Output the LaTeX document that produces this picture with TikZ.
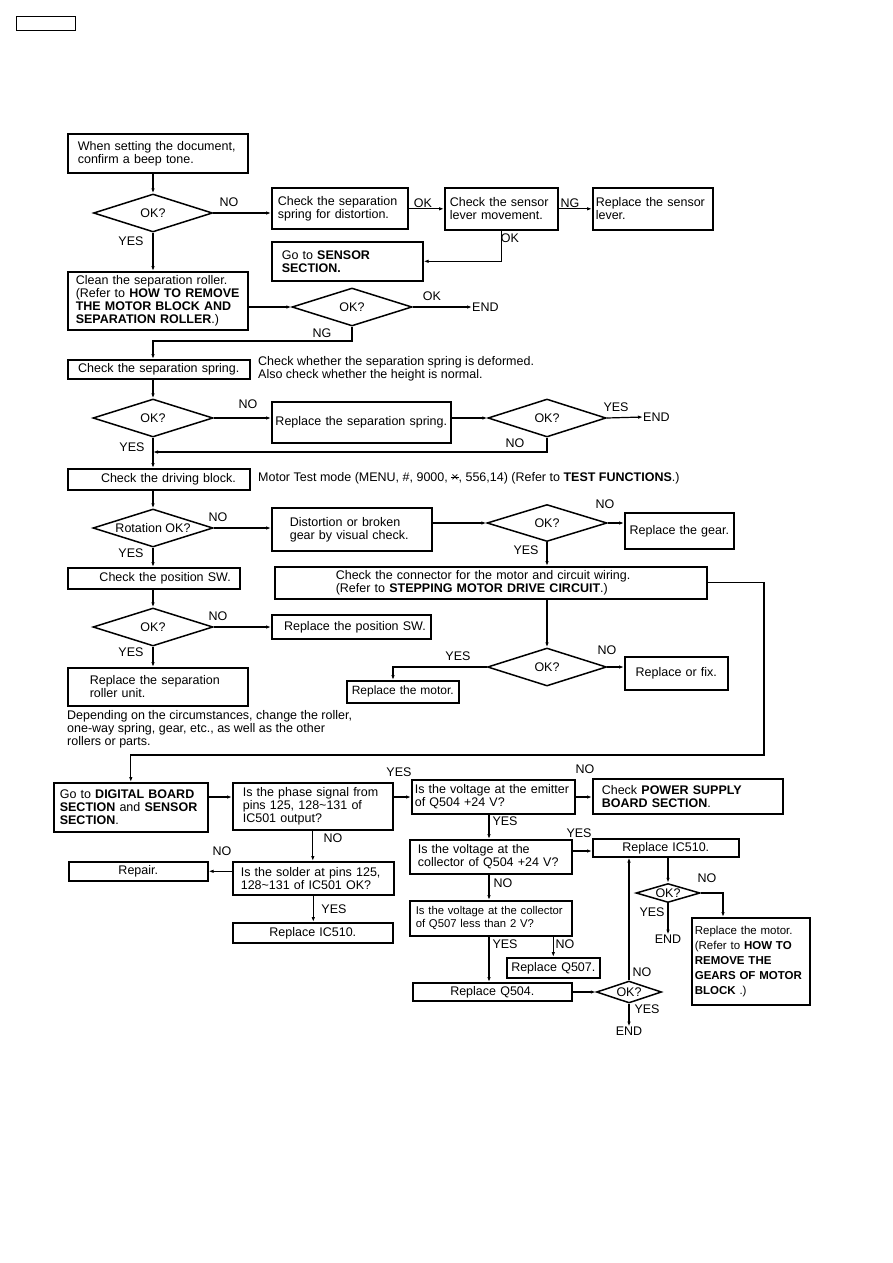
\documentclass[tikz,border=0pt]{standalone}
\usepackage{fontspec}
\setmainfont{Liberation Sans}
\usetikzlibrary{
  calc,
  positioning,
  arrows.meta,
  shapes.geometric
}
\newcommand{\flowfont}{\fontsize{12.5}{13}\selectfont}
\newcommand{\starkey}{\setbox0\hbox{×}\rlap{×}\hbox to \wd0{\hss\rule[0.3em]{\wd0}{0.07em}\hss}}

\begin{document}
\begin{tikzpicture}[> ={Latex[length=5pt,width=3.5pt]}, x=1pt, y=-1pt]
  \tikzset{
    box/.style={
      draw, line width=1.6pt, anchor=north west, inner ysep=2pt,
      align=left, font=\flowfont
    },
    decision/.style={
      draw, line width=1.5pt, shape=diamond, aspect=3, inner sep=0pt,
      font=\flowfont
    },
    tag/.style={font=\flowfont, inner sep=0pt},
    remark/.style={font=\flowfont, align=left, inner sep=0pt},
    flow/.style={line width=1.2pt, ->},
  }
  \useasboundingbox (0,0) rectangle (893,1263);

  \node[draw, line width=1.4pt, anchor=north west, inner sep=0pt,
    minimum width=59, minimum height=14] (pageno) at (16,16) {};

  % first checks
  \node[box, minimum width=180, minimum height=39, inner xsep=10, text width=160]
    (beep) at (67,133) {When setting the document,\\confirm a beep tone.};
  \node[decision, minimum width=119, minimum height=38] (ok1) at (153,213) {OK?};
  \node[box, minimum width=136, minimum height=41, inner xsep=6, text width=124]
    (sepspring) at (271,187) {Check the separation\\spring for distortion.};
  \node[box, minimum width=113, minimum height=42, inner xsep=5, text width=103]
    (lever) at (444,187) {Check the sensor\\lever movement.};
  \node[box, minimum width=120, minimum height=42, inner xsep=3, text width=114]
    (newlever) at (592,187) {Replace the sensor\\lever.};
  \node[box, minimum width=151, minimum height=39, inner xsep=10, text width=131]
    (sensor) at (271,241) {Go to \textbf{SENSOR}\\\textbf{SECTION.}};
  \node[box, minimum width=180, minimum height=58, inner xsep=8, text width=164]
    (clean) at (67,271) {Clean the separation roller.\\(Refer to \textbf{HOW TO REMOVE}\\\textbf{THE MOTOR BLOCK AND}\\\textbf{SEPARATION ROLLER}.)};
  \node[decision, minimum width=120, minimum height=38] (ok2) at (352,307) {OK?};
  \node[tag, anchor=west] (end1) at (472,307) {END};

  \draw[flow] (beep.south -| ok1.north) -- (ok1.north);
  \draw[flow] (ok1.east) -- (sepspring.west |- ok1.east);
  \draw[flow] (sepspring.east |- lever.west) -- (lever.west);
  \draw[flow] (lever.east) -- (newlever.west |- lever.east);
  \draw[flow] (lever.south) |- (sensor.east);
  \draw[flow] (ok1.south) -- (clean.north -| ok1.south);
  \draw[flow] (clean.east |- ok2.west) -- (ok2.west);
  \draw[flow] (ok2.east) -- (end1.west);

  \node[tag] (no1) at (229,202) {NO};
  \node[tag] (yes1) at (131,241) {YES};
  \node[tag] (ok1a) at (423,203) {OK};
  \node[tag] (ng1) at (570,203) {NG};
  \node[tag] (ok1b) at (510,238) {OK};
  \node[tag] (ok2a) at (432,296) {OK};
  \node[tag] (ng2) at (322,333) {NG};

  % separation spring
  \node[box, minimum width=182, minimum height=19, inner xsep=3, text width=176, align=center]
    (spring) at (67,359) {Check the separation spring.};
  \node[remark, anchor=north west] (springnote) at (258,356)
    {Check whether the separation spring is deformed.\\Also check whether the height is normal.};
  \node[decision, minimum width=120, minimum height=38] (ok3) at (153,418) {OK?};
  \node[box, minimum width=179, minimum height=41, inner xsep=3, text width=173, align=center]
    (repspring) at (271,401) {Replace the separation spring.};
  \node[decision, minimum width=118, minimum height=38] (ok4) at (547,418) {OK?};
  \node[tag, anchor=west] (end2) at (643,417) {END};

  \coordinate (ngbend) at (153,341);
  \draw[flow] (ok2.south) |- (ngbend) -- (spring.north -| ngbend);
  \draw[flow] (spring.south -| ok3.north) -- (ok3.north);
  \draw[flow] (ok3.east) -- (repspring.west |- ok3.east);
  \draw[flow] (repspring.east |- ok4.west) -- (ok4.west);
  \draw[flow] (ok4.east) -- (end2.west);
  \coordinate (nomerge) at (153,452);
  \draw[flow] (ok4.south) |- (nomerge);

  \node[tag] (no3) at (248,404) {NO};
  \node[tag] (yes4) at (616,407) {YES};
  \node[tag] (no4) at (515,443) {NO};
  \node[tag] (yes3) at (132,447) {YES};

  % driving block
  \node[box, minimum width=182, minimum height=21, inner xsep=14, text width=154, align=right]
    (drive) at (67,468) {Check the driving block.};
  \node[remark, anchor=west] (testnote) at (258,478)
    {Motor Test mode (MENU, \#, 9000, \starkey, 556,14) (Refer to \textbf{TEST FUNCTIONS}.)};
  \node[decision, minimum width=120, minimum height=38] (rot) at (153,528) {Rotation OK?};
  \node[box, minimum width=160, minimum height=43, inner xsep=18, text width=124]
    (distort) at (271,507) {Distortion or broken\\gear by visual check.};
  \node[decision, minimum width=120, minimum height=37] (ok5) at (547,523) {OK?};
  \node[box, minimum width=109, minimum height=36, inner xsep=2, text width=105, align=center]
    (gear) at (624,512) {Replace the gear.};
  \node[box, minimum width=172, minimum height=21, inner xsep=9, text width=154, align=right]
    (possw) at (67,567) {Check the position SW.};
  \node[box, minimum width=432, minimum height=32, inner xsep=61, text width=310]
    (conn) at (274,566) {Check the connector for the motor and circuit wiring.\\(Refer to \textbf{STEPPING MOTOR DRIVE CIRCUIT}.)};
  \node[decision, minimum width=120, minimum height=38] (ok6) at (153,627) {OK?};
  \node[box, minimum width=159, minimum height=24, inner xsep=5, text width=149, align=right]
    (repsw) at (271,614) {Replace the position SW.};
  \node[decision, minimum width=119, minimum height=38] (ok7) at (547,667) {OK?};
  \node[box, minimum width=103, minimum height=33, inner xsep=3, text width=97, align=center]
    (fix) at (624,656) {Replace or fix.};
  \node[box, minimum width=112, minimum height=22, inner xsep=1, text width=110, align=center,
    font=\fontsize{12}{13}\selectfont] (motor) at (346,680) {Replace the motor.};
  \node[box, minimum width=180, minimum height=38, inner xsep=22, text width=136]
    (rollerunit) at (67,667) {Replace the separation\\roller unit.};
  \node[remark, anchor=north west] (rollernote) at (67,710)
    {Depending on the circumstances, change the roller,\\one-way spring, gear, etc., as well as the other\\rollers or parts.};

  \draw[flow] (ok3.south) -- (drive.north -| ok3.south);
  \draw[flow] (drive.south -| rot.north) -- (rot.north);
  \draw[flow] (rot.east) -- (distort.west |- rot.east);
  \draw[flow] (distort.east |- ok5.west) -- (ok5.west);
  \draw[flow] (ok5.east) -- (gear.west |- ok5.east);
  \draw[flow] (ok5.south) -- (conn.north -| ok5.south);
  \draw[flow] (rot.south) -- (possw.north -| rot.south);
  \draw[flow] (possw.south -| ok6.north) -- (ok6.north);
  \draw[flow] (ok6.east) -- (repsw.west |- ok6.east);
  \draw[flow] (ok6.south) -- (rollerunit.north -| ok6.south);
  \draw[flow] (conn.south -| ok7.north) -- (ok7.north);
  \draw[flow] (ok7.east) -- (fix.west |- ok7.east);
  \coordinate (yesdrop) at (393,667);
  \draw[flow] (ok7.west) -- (yesdrop) -- (motor.north -| yesdrop);

  \node[tag] (no5) at (218,517) {NO};
  \node[tag] (no6) at (605,504) {NO};
  \node[tag] (yes5) at (131,553) {YES};
  \node[tag] (yes6) at (526,550) {YES};
  \node[tag] (no7) at (218,616) {NO};
  \node[tag] (yes7) at (131,652) {YES};
  \node[tag] (no8) at (607,650) {NO};
  \node[tag] (yes8) at (458,656) {YES};

  % circuit checks
  \node[box, minimum width=154, minimum height=49, inner xsep=6, text width=142]
    (digital) at (53,782) {Go to \textbf{DIGITAL BOARD}\\\textbf{SECTION} and \textbf{SENSOR}\\\textbf{SECTION}.};
  \node[box, minimum width=160, minimum height=47, inner xsep=10, text width=140]
    (phase) at (232,782) {Is the phase signal from\\pins 125, 128\textasciitilde131 of\\IC501 output?};
  \node[box, minimum width=161, minimum height=33, inner xsep=8, text width=145]
    (solder) at (232,861) {Is the solder at pins 125,\\128\textasciitilde131 of IC501 OK?};
  \node[box, minimum width=139, minimum height=19, inner xsep=3, text width=133, align=center]
    (repair) at (68,861) {Repair.};
  \node[box, minimum width=160, minimum height=20, inner xsep=3, text width=154, align=center]
    (ic510a) at (232,922) {Replace IC510.};
  \node[box, minimum width=163, minimum height=34, inner xsep=3, text width=157]
    (emitter) at (411,779) {Is the voltage at the emitter\\of Q504 +24 V?};
  \node[box, minimum width=190, minimum height=35, inner xsep=9, text width=172]
    (power) at (592,778) {Check \textbf{POWER SUPPLY}\\\textbf{BOARD SECTION}.};
  \node[box, minimum width=162, minimum height=34, inner xsep=8, text width=146]
    (collector) at (409,839) {Is the voltage at the\\collector of Q504 +24 V?};
  \node[box, minimum width=146, minimum height=18, inner xsep=3, text width=140, align=center]
    (ic510b) at (592,838) {Replace IC510.};
  \node[box, minimum width=162, minimum height=35, inner xsep=6, text width=150,
    font=\fontsize{11.3}{13}\selectfont]
    (q507q) at (409,900) {Is the voltage at the collector\\of Q507 less than 2 V?};
  \node[box, minimum width=93, minimum height=20, inner xsep=3, text width=87, align=center]
    (q507) at (506,957) {Replace Q507.};
  \node[box, minimum width=159, minimum height=18, inner xsep=3, text width=153, align=center]
    (q504) at (412,982) {Replace Q504.};
  \node[decision, minimum width=65, minimum height=22] (ok8) at (629,992) {OK?};
  \node[decision, minimum width=64, minimum height=19] (ok9) at (668,893) {OK?};
  \node[tag] (end3) at (668,939) {END};
  \node[tag] (end4) at (629,1031) {END};
  \node[box, minimum width=118, minimum height=87, inner xsep=3, text width=112,
    font=\fontsize{11.5}{15}\selectfont]
    (motor2) at (691,917) {Replace the motor.\\(Refer to \textbf{HOW TO}\\\textbf{REMOVE THE}\\\textbf{GEARS OF MOTOR}\\\textbf{BLOCK} .)};

  \coordinate (loopcorner) at (764,755);
  \draw[flow] (conn.east) -| (loopcorner) -| (digital.north);
  \coordinate (rowtop) at (0,797);
  \draw[flow] (digital.east |- rowtop) -- (phase.west |- rowtop);
  \draw[flow] (phase.east |- rowtop) -- (emitter.west |- rowtop);
  \draw[flow] (emitter.east |- rowtop) -- (power.west |- rowtop);
  \draw[flow] (phase.south) -- (solder.north -| phase.south);
  \draw[flow] (solder.west |- repair.east) -- (repair.east);
  \draw[flow] (solder.south) -- (ic510a.north -| solder.south);
  \coordinate (colx) at (489,0);
  \draw[flow] (emitter.south -| colx) -- (collector.north -| colx);
  \draw[flow] (collector.south -| colx) -- (q507q.north -| colx);
  \draw[flow] (q507q.south -| colx) -- (q504.north -| colx);
  \draw[flow] (q507q.south -| q507.north) -- (q507.north);
  \coordinate (rowic) at (0,851);
  \draw[flow] (collector.east |- rowic) -- (ic510b.west |- rowic);
  \draw[flow] (q504.east |- ok8.west) -- (ok8.west);
  \draw[flow] (ok8.north) -- (ic510b.south -| ok8.north);
  \draw[flow] (ok8.south) -- (end4.north);
  \draw[flow] (ic510b.south -| ok9.north) -- (ok9.north);
  \draw[flow] (ok9.south) -- (end3.north);
  \coordinate (nobend) at (723,893);
  \draw[flow] (ok9.east) -- (nobend) -- (motor2.north -| nobend);

  \node[tag] (yes9) at (399,772) {YES};
  \node[tag] (no9) at (585,769) {NO};
  \node[tag] (no10) at (333,838) {NO};
  \node[tag] (no11) at (222,851) {NO};
  \node[tag] (yes10) at (334,909) {YES};
  \node[tag] (yes11) at (505,821) {YES};
  \node[tag] (yes12) at (579,833) {YES};
  \node[tag] (no12) at (503,883) {NO};
  \node[tag] (yes13) at (505,944) {YES};
  \node[tag] (no13) at (565,944) {NO};
  \node[tag] (no14) at (707,878) {NO};
  \node[tag] (yes14) at (652,912) {YES};
  \node[tag] (no15) at (642,972) {NO};
  \node[tag] (yes15) at (647,1009) {YES};
\end{tikzpicture}
\end{document}
